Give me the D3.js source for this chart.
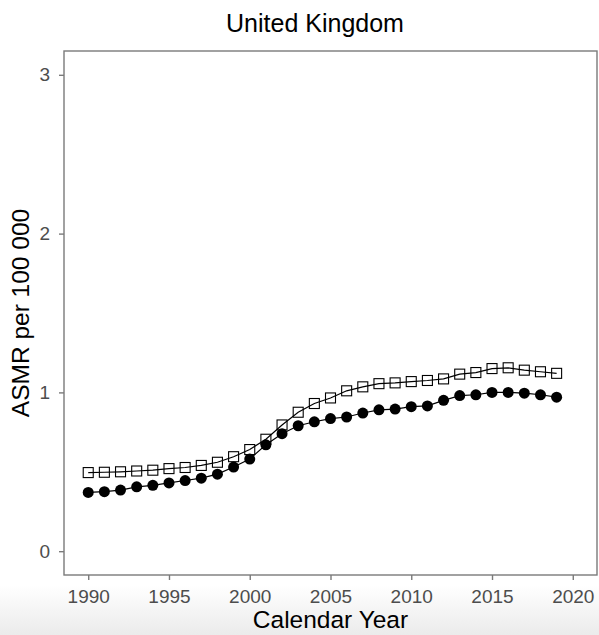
<!DOCTYPE html>
<html>
<head>
<meta charset="utf-8">
<script src="https://cdn.jsdelivr.net/npm/d3@7"></script>
<style>
  body { margin: 0; background: #fff; }
  svg { display: block; font-family: "Liberation Sans", Arial, sans-serif; }
</style>
</head>
<body>
<svg id="chart" width="599" height="635"></svg>
<script>
// values
const years = d3.range(1990, 2020);
const filledSeries = [0.37, 0.375, 0.385, 0.405, 0.415, 0.43, 0.445, 0.46, 0.485, 0.53,
  0.58, 0.67, 0.74, 0.79, 0.815, 0.835, 0.845, 0.87, 0.89, 0.895,
  0.91, 0.915, 0.95, 0.98, 0.985, 1.0, 1.0, 0.995, 0.985, 0.97];
const openSeries = [0.495, 0.497, 0.5, 0.505, 0.51, 0.52, 0.527, 0.54, 0.56, 0.595,
  0.64, 0.705, 0.795, 0.875, 0.93, 0.965, 1.01, 1.035, 1.055, 1.06,
  1.068, 1.075, 1.085, 1.115, 1.125, 1.15, 1.155, 1.14, 1.13, 1.12];
const xTicks = [1990, 1995, 2000, 2005, 2010, 2015, 2020];
const yTicks = [0, 1, 2, 3];

const svg = d3.select("#chart");
const W = 599, H = 635;
const pLeft = 64, pRight = 597, pTop = 51, pBottom = 575;

// faint grey band at the bottom of the picture
const grad = svg.append("defs").append("linearGradient")
    .attr("id", "fade").attr("x1", 0).attr("y1", 0).attr("x2", 0).attr("y2", 1);
grad.append("stop").attr("offset", "0%").attr("stop-color", "#ffffff");
grad.append("stop").attr("offset", "100%").attr("stop-color", "#ebebeb");
svg.append("rect").attr("x", 0).attr("y", 585).attr("width", W).attr("height", H - 585)
    .attr("fill", "url(#fade)");

const x = d3.scaleLinear().domain([1988.5, 2021.5]).range([pLeft, pRight]);
const y = d3.scaleLinear().domain([-0.15, 3.15]).range([pBottom, pTop]);

// axes
const xAxis = svg.append("g").attr("transform", `translate(0,${pBottom})`)
    .call(d3.axisBottom(x).tickValues(xTicks).tickFormat(d3.format("d")).tickSize(5).tickPadding(10));
const yAxis = svg.append("g").attr("transform", `translate(${pLeft},0)`)
    .call(d3.axisLeft(y).tickValues(yTicks).tickFormat(d3.format("d")).tickSize(5).tickPadding(9));
[xAxis, yAxis].forEach(g => {
    g.select(".domain").remove();
    g.selectAll(".tick line").attr("stroke", "#7a7a7a").attr("stroke-width", 1.4);
    g.selectAll(".tick text").attr("fill", "#4d4d4d").attr("font-size", 19)
        .attr("font-family", "Liberation Sans, Arial, sans-serif");
});

// panel border
svg.append("rect").attr("x", pLeft).attr("y", pTop)
    .attr("width", pRight - pLeft).attr("height", pBottom - pTop)
    .attr("fill", "none").attr("stroke", "#7a7a7a").attr("stroke-width", 1.4);

const line = d3.line().x((d, i) => x(years[i])).y(d => y(d));

svg.append("path").datum(openSeries).attr("d", line)
    .attr("fill", "none").attr("stroke", "#000").attr("stroke-width", 1.2);
svg.append("path").datum(filledSeries).attr("d", line)
    .attr("fill", "none").attr("stroke", "#000").attr("stroke-width", 1.2);

const sq = 10;
svg.append("g").selectAll("rect").data(openSeries).join("rect")
    .attr("x", (d, i) => x(years[i]) - sq / 2)
    .attr("y", d => y(d) - sq / 2)
    .attr("width", sq).attr("height", sq)
    .attr("fill", "none").attr("stroke", "#000").attr("stroke-width", 1.1);

svg.append("g").selectAll("circle").data(filledSeries).join("circle")
    .attr("cx", (d, i) => x(years[i]))
    .attr("cy", d => y(d))
    .attr("r", 5.5).attr("fill", "#000");

// titles
svg.append("text").attr("x", 315).attr("y", 32).attr("text-anchor", "middle")
    .attr("font-size", 25).attr("fill", "#000").text("United Kingdom");
svg.append("text").attr("x", (pLeft + pRight) / 2).attr("y", 628).attr("text-anchor", "middle")
    .attr("font-size", 24.5).attr("fill", "#000").text("Calendar Year");
svg.append("text").attr("transform", `translate(29,${(pTop + pBottom) / 2}) rotate(-90)`)
    .attr("text-anchor", "middle").attr("font-size", 24.5).attr("fill", "#000")
    .text("ASMR per 100 000");
</script>
</body>
</html>
